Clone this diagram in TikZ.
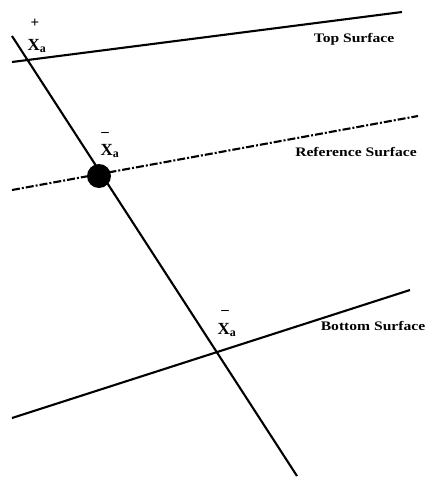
\documentclass[tikz,border=0pt]{standalone}
\usepackage{graphicx}
\usepackage{fontspec}
\setmainfont{Liberation Serif}
\usetikzlibrary{positioning}
\newcommand{\surfname}[1]{\scalebox{1.2}[1]{\bfseries #1}}

\begin{document}
\begin{tikzpicture}[x=1pt, y=-1pt,
  surf/.style={line width=2.1pt},
  refsurf/.style={surf, dash pattern=on 8pt off 2pt on 2pt off 2pt},
  dot/.style={circle, fill=black, inner sep=0pt, minimum size=24pt},
  lbl/.style={font=\fontsize{13}{15}\selectfont, inner sep=0pt},
  ptname/.style={font=\fontsize{17}{19}\selectfont\bfseries, inner sep=0pt},
  sgn/.style={font=\fontsize{15}{17}\selectfont\bfseries, inner sep=0pt}]
  \useasboundingbox (0,0) rectangle (428,480);
  % surfaces
  \coordinate (topL) at (12,62);   \coordinate (topR) at (402,12);
  \coordinate (refL) at (12,190);  \coordinate (refR) at (418,116);
  \coordinate (botL) at (12,418);  \coordinate (botR) at (410,290);
  \coordinate (axA) at (12,36);    \coordinate (axB) at (297,476);
  \draw[surf] (topL) -- (topR);
  \draw[refsurf] (refL) -- (refR);
  \draw[surf] (botL) -- (botR);
  \draw[surf] (axA) -- (axB);
  \node[dot] (xref) at (99,176) {};
  % labels
  \node[lbl] (top) at (354,39) {\surfname{Top Surface}};
  \node[lbl] (ref) at (356,152) {\surfname{Reference Surface}};
  \node[lbl] (bot) at (373,326) {\surfname{Bottom Surface}};
  \node[ptname] (xtop) at (37,46) {X\textsubscript{a}};
  \node[sgn] at (35,23) {+};
  \node[ptname] (xmid) at (110,151) {X\textsubscript{a}};
  \node[sgn] at (105,134) {–};
  \node[ptname] (xbot) at (227,330) {X\textsubscript{a}};
  \node[sgn] at (225,312) {–};
\end{tikzpicture}
\end{document}
